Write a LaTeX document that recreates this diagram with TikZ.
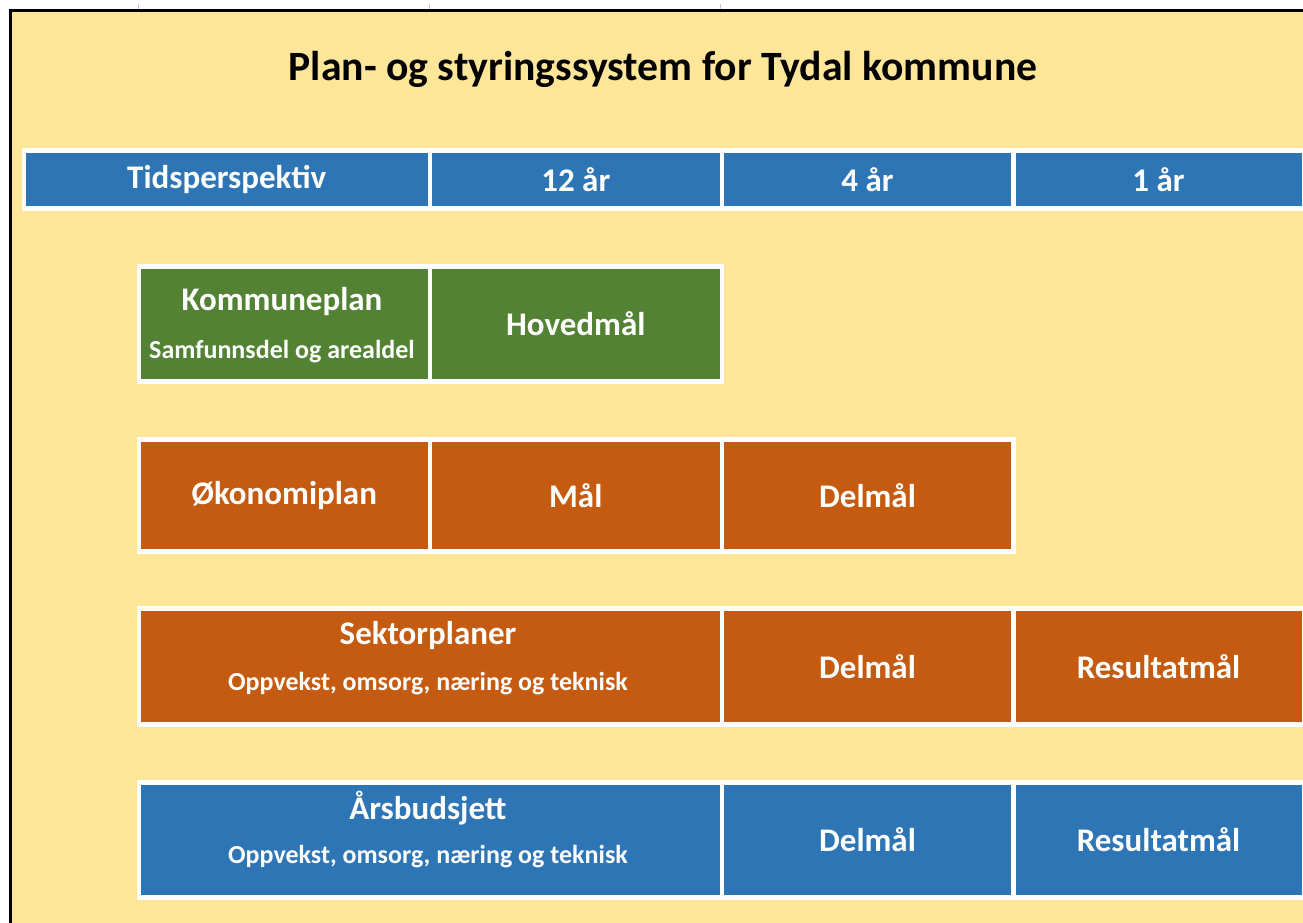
\documentclass[tikz,border=0pt]{standalone}
\usepackage{fontspec}
\setmainfont{Carlito}
\usepackage{xcolor}
\definecolor{bgyellow}{HTML}{FFE699}
\definecolor{hdblue}{HTML}{2E75B6}
\definecolor{kpgreen}{HTML}{548235}
\definecolor{ecorange}{HTML}{C55A11}

\tikzset{
  cell/.style={draw=white, line width=4.5pt, anchor=north west, inner sep=0pt,
    text=white, font=\bfseries\fontsize{33}{40}\selectfont},
  celltext/.style={text=white, inner sep=0pt, font=\bfseries\fontsize{33}{40}\selectfont},
  subtext/.style={text=white, inner sep=0pt, font=\bfseries\fontsize{26}{31}\selectfont},
  titletext/.style={text=black, inner sep=0pt, font=\bfseries\fontsize{41.7}{50}\selectfont}
}

\begin{document}
\begin{tikzpicture}[x=1pt,y=-1pt]
\useasboundingbox (0,0) rectangle (1303,923);
% background and frame
\fill [bgyellow] (10.5,10.5) rectangle (1303,923);
\draw [black, line width=3pt] (10.5,923) -- (10.5,10.5) -- (1303,10.5);
\foreach \x in {138,429,720}
  \draw [gray!40, line width=1pt] (\x,4) -- (\x,9);

% title
\node [titletext] (title) at (663,69) {Plan- og styringssystem for Tydal kommune};

% header row
\node [cell, fill=hdblue, minimum width=406, minimum height=58] (tid) at (21.5,148) {Tidsperspektiv};
\node [cell, fill=hdblue, minimum width=292, minimum height=58] (aar12) at (427.5,148) {12 år};
\node [cell, fill=hdblue, minimum width=291.5, minimum height=58] (aar4) at (719.5,148) {4 år};
\node [cell, fill=hdblue, minimum width=290.5, minimum height=58] (aar1) at (1011,148) {1 år};

% kommuneplan
\node [cell, fill=kpgreen, minimum width=291, minimum height=115] (kp) at (136.5,264) {};
\node [celltext] (kp-t) at (282,302) {Kommuneplan};
\node [subtext] (kp-s) at (282,352) {Samfunnsdel og arealdel};
\node [cell, fill=kpgreen, minimum width=292, minimum height=115] (kp-mal) at (427.5,264) {Hovedmål};

% okonomiplan
\node [cell, fill=ecorange, minimum width=291, minimum height=112] (op) at (136.5,437) {Økonomiplan};
\node [cell, fill=ecorange, minimum width=292, minimum height=112] (op-mal) at (427.5,437) {Mål};
\node [cell, fill=ecorange, minimum width=291.5, minimum height=112] (op-del) at (719.5,437) {Delmål};

% sektorplaner
\node [cell, fill=ecorange, minimum width=583, minimum height=116] (sp) at (136.5,606) {};
\node [celltext] (sp-t) at (428,636) {Sektorplaner};
\node [subtext] (sp-s) at (428,684) {Oppvekst, omsorg, næring og teknisk};
\node [cell, fill=ecorange, minimum width=291.5, minimum height=116] (sp-del) at (719.5,606) {Delmål};
\node [cell, fill=ecorange, minimum width=290.5, minimum height=116] (sp-res) at (1011,606) {Resultatmål};

% arsbudsjett
\node [cell, fill=hdblue, minimum width=583, minimum height=115] (ab) at (136.5,780) {};
\node [celltext] (ab-t) at (428,808) {Årsbudsjett};
\node [subtext] (ab-s) at (428,857) {Oppvekst, omsorg, næring og teknisk};
\node [cell, fill=hdblue, minimum width=291.5, minimum height=115] (ab-del) at (719.5,780) {Delmål};
\node [cell, fill=hdblue, minimum width=290.5, minimum height=115] (ab-res) at (1011,780) {Resultatmål};
\end{tikzpicture}
\end{document}
